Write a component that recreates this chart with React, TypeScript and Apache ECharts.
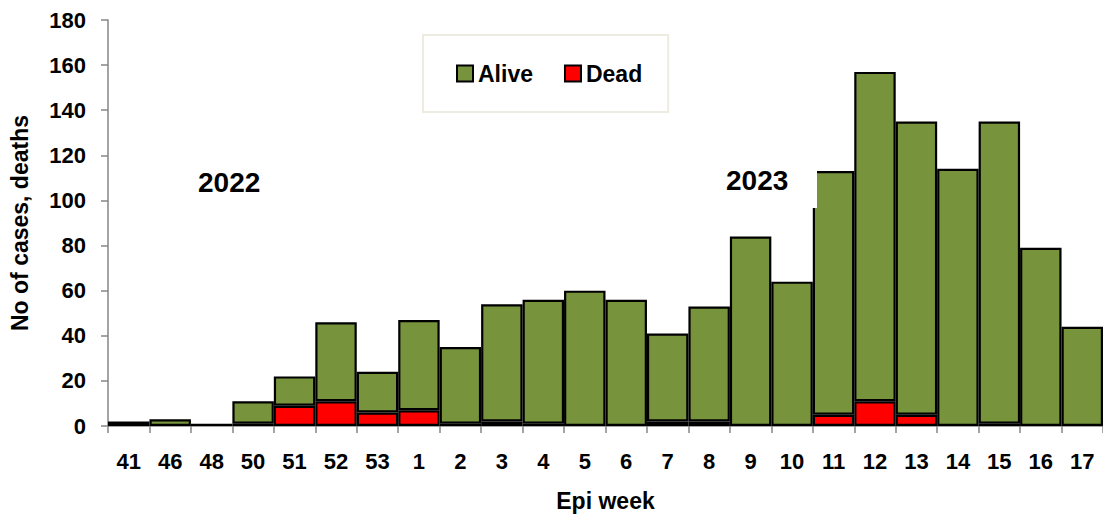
import React, { useEffect, useRef } from "react";
import * as echarts from "echarts";

const weeks = ["41", "46", "48", "50", "51", "52", "53", "1", "2", "3", "4", "5", "6", "7", "8", "9", "10", "11", "12", "13", "14", "15", "16", "17"];
const alive = [2, 3, 1, 10, 13, 35, 18, 40, 34, 52, 55, 60, 56, 39, 51, 84, 64, 108, 146, 130, 114, 134, 79, 44];
const dead = [0, 0, 0, 1, 9, 11, 6, 7, 1, 2, 1, 0, 0, 2, 2, 0, 0, 5, 11, 5, 0, 1, 0, 0];
const yTicks = { min: 0, max: 180, interval: 20 };
const yearLabels = ["2022", "2023"];

const FONT = "'Liberation Sans', Arial, sans-serif";

export default function App() {
  const ref = useRef<HTMLDivElement>(null);
  useEffect(() => {
    if (!ref.current) return;
    const chart = echarts.init(ref.current, null, { renderer: "svg" });
    const border = { borderColor: "#000", borderWidth: 2.2 };
    chart.setOption({
      animation: false,
      textStyle: { fontFamily: FONT },
      grid: { left: 107, right: 0, top: 20, bottom: 90 },
      legend: {
        data: ["Alive", "Dead"],
        left: 423,
        top: 35,
        padding: [27, 26, 27, 33],
        backgroundColor: "#fff",
        borderColor: "#eeece1",
        borderWidth: 2,
        itemWidth: 16,
        itemHeight: 16,
        itemGap: 31,
        icon: "rect",
        textStyle: { fontSize: 23, fontWeight: "bold", color: "#000", fontFamily: FONT },
      },
      xAxis: {
        type: "category",
        data: weeks,
        boundaryGap: true,
        axisLine: { lineStyle: { color: "#868686", width: 1.5 } },
        axisTick: { show: true, length: 7, lineStyle: { color: "#868686", width: 1.5 } },
        axisLabel: { color: "#000", fontSize: 22, fontWeight: "bold", margin: 24, fontFamily: FONT, interval: 0 },
        name: "Epi week",
        nameLocation: "middle",
        nameGap: 63,
        nameTextStyle: { color: "#000", fontSize: 23, fontWeight: "bold", fontFamily: FONT },
      },
      yAxis: {
        type: "value",
        min: yTicks.min,
        max: yTicks.max,
        interval: yTicks.interval,
        splitLine: { show: false },
        axisLine: { show: true, lineStyle: { color: "#868686", width: 1.5 } },
        axisTick: { show: true, length: 7, lineStyle: { color: "#868686", width: 1.5 } },
        axisLabel: { color: "#000", fontSize: 22, fontWeight: "bold", margin: 22, fontFamily: FONT },
        name: "No of cases, deaths",
        nameLocation: "middle",
        nameGap: 77,
        nameRotate: 90,
        nameTextStyle: { color: "#000", fontSize: 23, fontWeight: "bold", fontFamily: FONT },
      },
      series: [
        {
          name: "Dead",
          type: "bar",
          stack: "total",
          barCategoryGap: "0%",
          itemStyle: { color: "#ff0000", ...border },
          data: dead.map((v) => (v === 0 ? null : v)),
        },
        {
          name: "Alive",
          type: "bar",
          stack: "total",
          barCategoryGap: "0%",
          itemStyle: { color: "#77933c", ...border },
          data: alive,
        },
      ],
      graphic: [
        {
          type: "rect",
          z: 100,
          shape: { x: 718, y: 160, width: 99, height: 48 },
          style: { fill: "#fff" },
        },
        {
          type: "text",
          z: 101,
          left: 198,
          top: 168,
          style: { text: yearLabels[0], font: `bold 28px ${FONT}`, fill: "#000" },
        },
        {
          type: "text",
          z: 101,
          left: 726,
          top: 166,
          style: { text: yearLabels[1], font: `bold 28px ${FONT}`, fill: "#000" },
        },
      ],
    });
    return () => chart.dispose();
  }, []);
  return <div ref={ref} style={{ position: "absolute", left: 0, top: 0, width: 1103, height: 517 }} />;
}
